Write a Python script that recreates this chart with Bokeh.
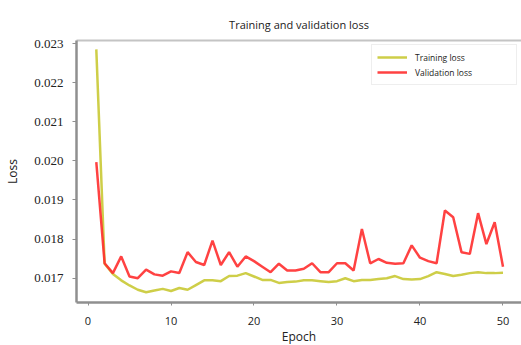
from bokeh.plotting import figure
from bokeh.models import Range1d, LinearAxis, Legend, LegendItem, FixedTicker, ColumnDataSource
from bokeh.embed import file_html
from bokeh.resources import INLINE

epochs = list(range(1, 51))
training_loss = [
    0.02285, 0.01737, 0.01711, 0.016945, 0.016815, 0.016705, 0.01664, 0.016684, 0.016727, 0.016673,
    0.016749, 0.016705, 0.016825, 0.016945, 0.016945, 0.016924, 0.017055, 0.017065, 0.01713, 0.017044,
    0.016956, 0.016956, 0.01688, 0.016902, 0.016913, 0.016945, 0.016945, 0.016924, 0.016902, 0.016924,
    0.01700, 0.016924, 0.016956, 0.016956, 0.016978, 0.01700, 0.017055, 0.016978, 0.016967, 0.016978,
    0.017055, 0.017153, 0.017109, 0.017055, 0.017087, 0.01713, 0.017153, 0.01713, 0.01713, 0.017142,
]
validation_loss = [
    0.01997, 0.017382, 0.017131, 0.017557, 0.017044, 0.01700, 0.017218, 0.017098, 0.017065, 0.017175,
    0.017131, 0.017666, 0.017415, 0.017338, 0.01796, 0.017338, 0.017666, 0.017295, 0.017557, 0.017436,
    0.017295, 0.017153, 0.017371, 0.017196, 0.017196, 0.01724, 0.017382, 0.017153, 0.017153, 0.017382,
    0.017382, 0.017196, 0.01826, 0.017382, 0.017491, 0.017393, 0.017371, 0.017382, 0.01784, 0.017524,
    0.017436, 0.017382, 0.018731, 0.01856, 0.017666, 0.017622, 0.018662, 0.017873, 0.018432, 0.017295,
]
x_ticks = [0, 10, 20, 30, 40, 50]
y_ticks = [0.017, 0.018, 0.019, 0.020, 0.021, 0.022, 0.023]
y_tick_labels = {0.017: "0.017", 0.018: "0.018", 0.019: "0.019", 0.020: "0.020",
                 0.021: "0.021", 0.022: "0.022", 0.023: "0.023"}

src = ColumnDataSource(dict(epoch=epochs, train=training_loss, val=validation_loss))

p = figure(frame_width=445, frame_height=262, output_backend="svg", toolbar_location=None,
           x_range=Range1d(-1.386, 52.23), y_range=Range1d(0.016379, 0.023077),
           min_border_left=76, min_border_right=0, min_border_top=40, min_border_bottom=0,
           x_axis_label="Epoch", y_axis_label="Loss")

p.title.text = "Training and validation loss"
p.title.align = "center"
p.title.text_font = "Open Sans"
p.title.text_font_size = "11px"
p.title.text_font_style = "normal"
p.title.text_color = "#222222"
p.title.standoff = 18

p.grid.visible = False
p.outline_line_color = None
p.background_fill_color = "white"
p.border_fill_color = "white"

xa = p.below[0]
xa.ticker = FixedTicker(ticks=x_ticks)
xa.axis_line_color = "#8f8f8f"
xa.axis_line_width = 2.5
xa.major_tick_line_color = "#8f8f8f"
xa.major_tick_in = 0
xa.major_tick_out = 3
xa.minor_tick_line_color = None
xa.major_label_text_font = "Open Sans"
xa.major_label_text_font_size = "11px"
xa.major_label_text_color = "#222222"
xa.major_label_standoff = 11
xa.axis_label_text_font = "Open Sans"
xa.axis_label_text_font_size = "12px"
xa.axis_label_text_font_style = "normal"
xa.axis_label_text_color = "#222222"
xa.axis_label_standoff = 0

ya = p.left[0]
ya.ticker = FixedTicker(ticks=y_ticks)
ya.major_label_overrides = y_tick_labels
ya.axis_line_color = "#8f8f8f"
ya.axis_line_width = 2.5
ya.major_tick_line_color = "#8f8f8f"
ya.major_tick_in = 0
ya.major_tick_out = 4
ya.minor_tick_line_color = None
ya.major_label_text_font = "Liberation Serif"
ya.major_label_text_font_size = "13px"
ya.major_label_text_color = "#222222"
ya.major_label_standoff = 9
ya.axis_label_text_font = "Open Sans"
ya.axis_label_text_font_size = "12px"
ya.axis_label_text_font_style = "normal"
ya.axis_label_text_color = "#222222"
ya.axis_label_standoff = 10

top_axis = LinearAxis(ticker=FixedTicker(ticks=[]), axis_line_color="#c4c4c4", axis_line_width=2,
                      major_tick_line_color=None, minor_tick_line_color=None)
p.add_layout(top_axis, "above")

r_train = p.line("epoch", "train", source=src, line_color="#c9c934", line_width=2.5, line_alpha=0.9)
r_val = p.line("epoch", "val", source=src, line_color="#ff2d2d", line_width=2.5, line_alpha=0.9)

legend = Legend(items=[LegendItem(label="Training loss", renderers=[r_train]),
                       LegendItem(label="Validation loss", renderers=[r_val])],
                location="top_right", margin=4, padding=5, spacing=1,
                glyph_width=30, glyph_height=14, label_height=14, label_width=96,
                label_standoff=8, label_text_font="Open Sans", label_text_font_size="8.5px",
                label_text_color="#222222", border_line_color="#dddddd", border_line_width=1.5,
                background_fill_color="white", background_fill_alpha=1.0)
p.add_layout(legend, "center")

open("out.html", "w").write(file_html(p, INLINE))
